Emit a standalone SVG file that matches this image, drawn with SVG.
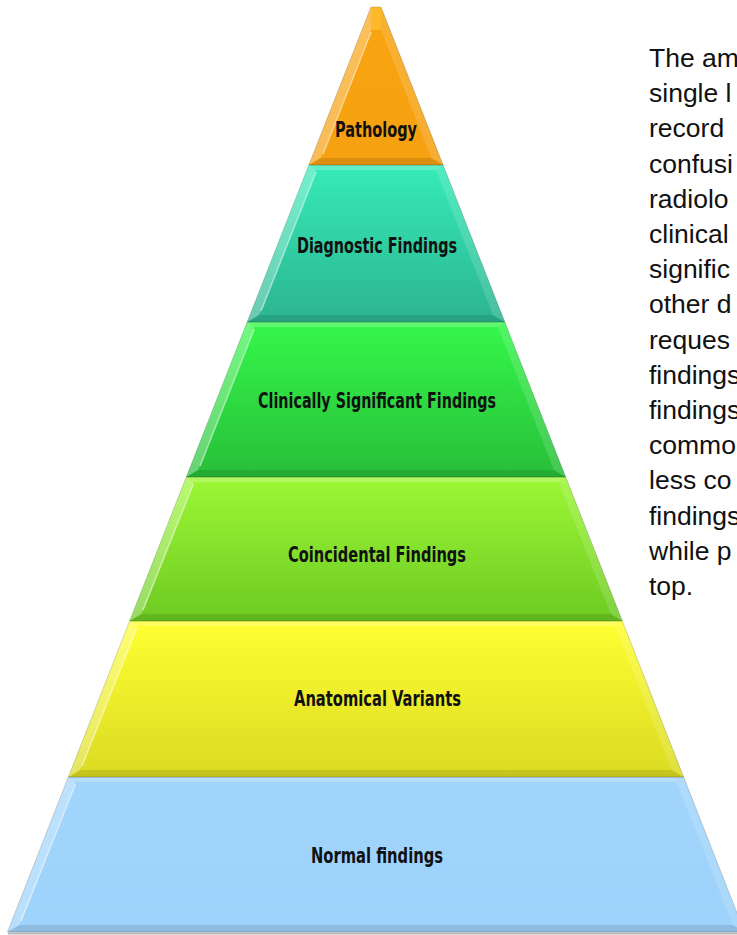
<svg xmlns="http://www.w3.org/2000/svg" width="737" height="935" viewBox="0 0 737 935">
<style>
.lbl{font-family:"DejaVu Sans Condensed","DejaVu Sans",sans-serif;font-weight:bold;font-stretch:condensed;font-size:21px;fill:#111}
.para{font-family:"Liberation Sans",Arial,sans-serif;font-size:26.5px;fill:#111}
.bt{fill:#fff;opacity:0.22}
.bl{fill:#fff;opacity:0.30}
.br{fill:#fff;opacity:0.14}
.bb{fill:#000;opacity:0.10}
.hl{fill:none;stroke:#fff;stroke-width:1.5;opacity:0.55}
.edge{stroke:#000;stroke-opacity:0.18;stroke-width:1}
</style>
<defs>
<linearGradient id="gOr" x1="0" y1="0" x2="0" y2="1"><stop offset="0" stop-color="#F9A511"/><stop offset="1" stop-color="#F5A010"/></linearGradient>
<linearGradient id="gTe" x1="0" y1="0" x2="0" y2="1"><stop offset="0" stop-color="#36EBB8"/><stop offset="1" stop-color="#2CB490"/></linearGradient>
<linearGradient id="gGr" x1="0" y1="0" x2="0" y2="1"><stop offset="0" stop-color="#35F74A"/><stop offset="1" stop-color="#28BE39"/></linearGradient>
<linearGradient id="gLi" x1="0" y1="0" x2="0" y2="1"><stop offset="0" stop-color="#9DF736"/><stop offset="1" stop-color="#6CCA22"/></linearGradient>
<linearGradient id="gYe" x1="0" y1="0" x2="0" y2="1"><stop offset="0" stop-color="#FFFF33"/><stop offset="1" stop-color="#DADA22"/></linearGradient>
<linearGradient id="gBl" x1="0" y1="0" x2="0" y2="1"><stop offset="0" stop-color="#A2D5FC"/><stop offset="1" stop-color="#9DD2FA"/></linearGradient>
</defs>

<g id="normal">
<line x1="8" y1="933.5" x2="737" y2="933.5" stroke="#8a8a8a" stroke-width="2" opacity="0.6"/>
<polygon class="edge" points="68.4,777 683.6,777 744.5,932 7.5,932" fill="url(#gBl)"/>
<polygon class="bt" points="68.4,777 683.6,777 676.6,782 75.4,782"/>
<polygon class="bl" points="68.4,777 75.4,782 19.2,925 7.5,932"/>
<polygon class="br" points="683.6,777 744.5,932 732.8,925 676.6,782"/>
<polygon class="bb" points="7.5,932 19.2,925 732.8,925 744.5,932"/>
<line class="hl" x1="75.4" y1="784" x2="21" y2="921"/>
<text class="lbl" x="311" y="863" textLength="132" lengthAdjust="spacingAndGlyphs">Normal findings</text>
</g>

<g id="anatomical">
<polygon class="edge" points="129.7,621 622.3,621 683.6,777 68.4,777" fill="url(#gYe)"/>
<polygon class="bt" points="129.7,621 622.3,621 615.3,626 136.7,626"/>
<polygon class="bl" points="129.7,621 136.7,626 80.1,770 68.4,777"/>
<polygon class="br" points="622.3,621 683.6,777 671.9,770 615.3,626"/>
<polygon class="bb" points="68.4,777 80.1,770 671.9,770 683.6,777"/>
<line class="hl" x1="136.7" y1="628" x2="82" y2="766"/>
<text class="lbl" x="294" y="706" textLength="167" lengthAdjust="spacingAndGlyphs">Anatomical Variants</text>
</g>

<g id="coincidental">
<polygon class="edge" points="186.3,477 565.7,477 622.3,621 129.7,621" fill="url(#gLi)"/>
<polygon class="bt" points="186.3,477 565.7,477 558.7,482 193.3,482"/>
<polygon class="bl" points="186.3,477 193.3,482 141.4,614 129.7,621"/>
<polygon class="br" points="565.7,477 622.3,621 610.6,614 558.7,482"/>
<polygon class="bb" points="129.7,621 141.4,614 610.6,614 622.3,621"/>
<line class="hl" x1="193.3" y1="484" x2="143" y2="610"/>
<text class="lbl" x="288" y="562" textLength="178" lengthAdjust="spacingAndGlyphs">Coincidental Findings</text>
</g>

<g id="clinically">
<polygon class="edge" points="247.2,322 504.8,322 565.7,477 186.3,477" fill="url(#gGr)"/>
<polygon class="bt" points="247.2,322 504.8,322 497.8,327 254.2,327"/>
<polygon class="bl" points="247.2,322 254.2,327 198,470 186.3,477"/>
<polygon class="br" points="504.8,322 565.7,477 554,470 497.8,327"/>
<polygon class="bb" points="186.3,477 198,470 554,470 565.7,477"/>
<line class="hl" x1="254.2" y1="329" x2="200" y2="466"/>
<text class="lbl" x="258" y="408" textLength="238" lengthAdjust="spacingAndGlyphs">Clinically Significant Findings</text>
</g>

<g id="diagnostic">
<polygon class="edge" points="308.9,165 443.1,165 504.8,322 247.2,322" fill="url(#gTe)"/>
<polygon class="bt" points="308.9,165 443.1,165 436.1,170 315.9,170"/>
<polygon class="bl" points="308.9,165 315.9,170 259,315 247.2,322"/>
<polygon class="br" points="443.1,165 504.8,322 493,315 436.1,170"/>
<polygon class="bb" points="247.2,322 259,315 493,315 504.8,322"/>
<line class="hl" x1="315.9" y1="172" x2="261" y2="311"/>
<text class="lbl" x="297" y="253" textLength="160" lengthAdjust="spacingAndGlyphs">Diagnostic Findings</text>
</g>

<g id="pathology">
<polygon class="edge" points="371,7 381,7 443.1,165 308.9,165" fill="url(#gOr)"/>
<polygon fill="#FFD24A" opacity="0.45" points="371,7 381,7 381,30 371,30"/>
<polygon class="bl" fill="#FFE070" points="371,7 371,30 320.7,158 308.9,165"/>
<polygon class="br" points="381,7 443.1,165 431.3,158 381,30"/>
<polygon class="bb" points="308.9,165 320.7,158 431.3,158 443.1,165"/>
<line class="hl" x1="371" y1="32" x2="323" y2="154"/>
<text class="lbl" x="335" y="137" textLength="82" lengthAdjust="spacingAndGlyphs">Pathology</text>
</g>

<g id="description" class="para">
<text x="649" y="67">The am</text>
<text x="649" y="102.2">single l</text>
<text x="649" y="137.4">record</text>
<text x="649" y="172.6">confusi</text>
<text x="649" y="207.8">radiolo</text>
<text x="649" y="243">clinical</text>
<text x="649" y="278.2">signific</text>
<text x="649" y="313.4">other d</text>
<text x="649" y="348.6">reques</text>
<text x="649" y="383.8">findings</text>
<text x="649" y="419">findings</text>
<text x="649" y="454.2">commo</text>
<text x="649" y="489.4">less co</text>
<text x="649" y="524.6">findings</text>
<text x="649" y="559.8">while p</text>
<text x="649" y="595">top.</text>
</g>
</svg>
